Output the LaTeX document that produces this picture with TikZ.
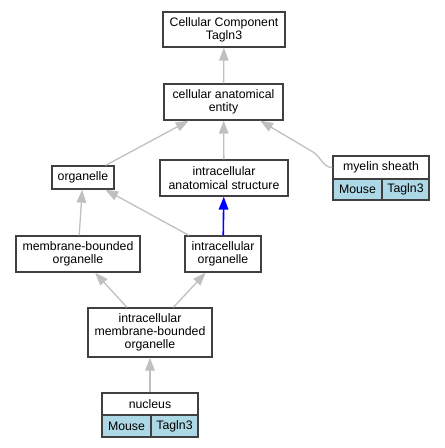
\documentclass[tikz,border=0pt]{standalone}
\usepackage{fontspec}
\setmainfont{Liberation Sans}
\usetikzlibrary{arrows.meta}
\definecolor{bordergray}{HTML}{404040}
\definecolor{edgegray}{HTML}{C0C0C0}
\definecolor{cellblue}{HTML}{ADD8E6}
\tikzset{
  box/.style={draw=bordergray, line width=1.3pt, fill=white, rectangle, inner sep=0pt,
    align=center, font=\fontsize{12.3}{13.3}\selectfont},
  cell/.style={box, fill=cellblue},
  edge/.style={draw=edgegray, line width=1.3pt,
    -{Triangle[length=13pt,width=9.5pt,fill=edgegray]}},
  blueedge/.style={draw=blue, line width=1.6pt,
    -{Triangle[length=13pt,width=9.5pt,fill=blue]}},
}
\begin{document}
\begin{tikzpicture}[x=1pt,y=-1pt]
\useasboundingbox (0,0) rectangle (445,448);
\node[box, minimum width=122pt, minimum height=35pt] (cct) at (224,29.5) {Cellular Component\\Tagln3};
\node[box, minimum width=119pt, minimum height=36pt] (cae) at (223.5,102) {cellular anatomical\\entity};
\node[box, minimum width=62pt, minimum height=23pt] (org) at (83,177.5) {organelle};
\node[box, minimum width=128pt, minimum height=36pt] (ias) at (224,178) {intracellular\\anatomical structure};
\node[box, minimum width=96pt, minimum height=23pt] (mye) at (381,167.5) {myelin sheath};
\node[cell, minimum width=49pt, minimum height=21pt] (myeA) at (357.5,189.5) {Mouse};
\node[cell, minimum width=47pt, minimum height=21pt] (myeB) at (405.5,189.5) {Tagln3};
\node[box, minimum width=124pt, minimum height=36pt] (mbo) at (78,254) {membrane-bounded\\organelle};
\node[box, minimum width=76pt, minimum height=36pt] (io) at (223,254) {intracellular\\organelle};
\node[box, minimum width=124pt, minimum height=49pt] (imbo) at (150,332.5) {intracellular\\membrane-bounded\\organelle};
\node[box, minimum width=96pt, minimum height=22pt] (nuc) at (150,404) {nucleus};
\node[cell, minimum width=49pt, minimum height=22pt] (nucA) at (126.5,426) {Mouse};
\node[cell, minimum width=47pt, minimum height=22pt] (nucB) at (174.5,426) {Tagln3};

\draw[edge] (cae) -- (cct);
\draw[edge] (org) -- (cae);
\draw[edge] (ias) -- (cae);
\draw[edge] (mye.west) .. controls (323,167.5) and (321,157) .. (313,152) -- (cae.-27.5);
\draw[edge] (mbo) -- (org);
\draw[edge] (io) -- (org);
\draw[blueedge] (io) -- (ias);
\draw[edge] (imbo) -- (mbo);
\draw[edge] (imbo) -- (io);
\draw[edge] (nuc) -- (imbo);
\end{tikzpicture}
\end{document}
